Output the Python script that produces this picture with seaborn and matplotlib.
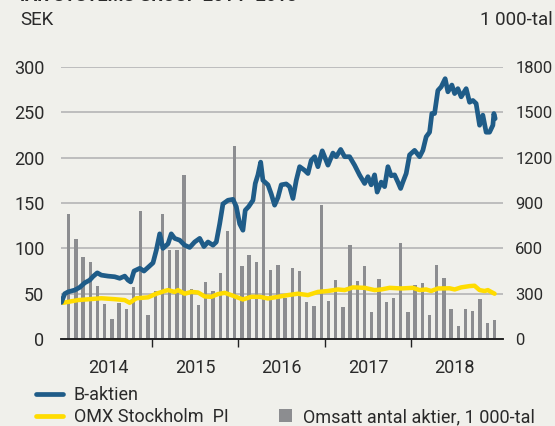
import numpy as np
import pandas as pd
import seaborn as sns
import matplotlib.pyplot as plt
from matplotlib.lines import Line2D
from matplotlib.patches import Patch

# monthly turnover, 1 000-tal, Jan 2014 .. Dec 2018
volume = [826, 661, 540, 511, 352, 229, 130, 236, 196, 346, 844, 161,
          319, 830, 588, 588, 1088, 328, 225, 377, 317, 434, 716, 1278,
          485, 555, 509, 1033, 454, 487, 269, 467, 449, 242, 218, 886,
          251, 392, 211, 621, 383, 482, 176, 397, 242, 275, 637, 178,
          357, 370, 159, 487, 401, 196, 86, 196, 189, 262, 104, 123]
vol_month = [i + 0.5 for i in range(len(volume))]

# B-aktien, SEK (time in months since 1 Jan 2014)
b_month = [-0.51, -0.04, 0.42, 1.34, 2.04, 2.73, 3.42, 3.88, 4.47, 5.03,
           5.96, 6.88, 7.58, 8.27, 8.73, 9.10, 9.56, 10.35, 10.94, 11.50,
           12.19, 12.65, 13.12, 13.57, 14.27, 14.72, 15.19, 15.89, 16.58, 17.27,
           17.96, 18.66, 19.25, 19.81, 20.50, 20.96, 21.43, 21.88, 22.58, 23.27,
           23.73, 24.20, 24.65, 24.97, 25.44, 26.04, 26.36, 26.73, 27.11, 27.42,
           28.12, 28.57, 29.04, 29.50, 29.96, 30.65, 31.12, 31.58, 32.04, 32.51,
           33.20, 33.66, 34.11, 34.58, 35.04, 35.64, 36.43, 37.12, 37.58, 38.19,
           38.74, 39.43, 40.12, 40.82, 41.51, 41.97, 42.42, 42.89, 43.25, 43.81,
           44.28, 44.74, 45.19, 45.66, 46.12, 46.50, 46.81, 47.27, 47.74, 48.43,
           49.13, 49.58, 50.04, 50.51, 50.83, 51.20, 51.66, 52.12, 52.67, 53.05,
           53.60, 53.98, 54.43, 54.89, 55.58, 56.05, 56.51, 56.96, 57.44, 57.89,
           58.35, 58.82, 59.28, 59.42, 59.60]
b_price = [40.4, 50, 52, 54, 57, 62, 65, 69, 73, 70.5,
           69.4, 68.7, 67, 69.4, 65, 63, 75, 78, 75, 79,
           84, 98, 116, 100, 105, 116, 111, 109, 103.5, 101,
           107, 111, 102, 107, 103.5, 107, 127, 149, 153, 154,
           146, 127, 120, 142, 146, 153, 171.5, 181, 195, 175,
           170, 160, 147.6, 156, 170, 171, 168, 155, 175, 190,
           186, 182.5, 197, 201, 190, 207.5, 191.7, 205, 201, 209,
           201, 201, 191.7, 180.7, 171.5, 179, 170, 181, 162, 173,
           168, 190, 180, 181, 173, 166, 173, 182.5, 203, 208,
           201, 208, 223, 228, 248.6, 248.6, 274, 278, 287, 272.5,
           280, 270.6, 276, 267, 276, 261, 263, 259.6, 235.7, 246.8,
           228, 228, 235.7, 248.6, 243]

# OMX Stockholm PI, rescaled
omx_month = [-0.28, 1.80, 5.03, 6.88, 8.27, 8.96, 9.88, 11.50, 12.65, 13.81,
             14.27, 15.19, 15.65, 16.58, 17.49, 18.42, 19.35, 20.26, 21.19, 22.12,
             23.03, 24.65, 25.80, 26.97, 28.12, 29.04, 29.50, 30.89, 32.27, 33.66,
             35.04, 36.43, 37.81, 38.74, 39.89, 41.51, 42.89, 43.81, 44.97, 46.58,
             48.20, 49.13, 50.04, 50.73, 51.66, 53.28, 53.98, 54.89, 56.05, 56.74,
             57.44, 58.13, 58.59, 59.04, 59.52]
omx_value = [40, 43, 45, 44, 43, 40, 45, 46, 50, 53,
             54, 52, 54, 50, 52, 51.4, 47, 46.6, 49.6, 51,
             48.5, 43.7, 46.6, 46.6, 44.8, 46, 46.6, 48.5, 50, 48.5,
             52, 53, 54.7, 54, 57, 56.5, 54, 54.7, 56.5, 55.8,
             56.5, 54, 54.7, 53, 55.8, 56, 54.7, 57, 58.4, 58.8,
             54, 53, 54, 52, 50]

years = ['2014', '2015', '2016', '2017', '2018']

bg = '#f0f0eb'
blue = '#1f5c88'
yellow = '#ffdc00'
grey = '#8c8d90'
txt = '#2a2a2a'

sns.set_style('white')
plt.rcParams['font.family'] = ['Roboto', 'DejaVu Sans']
plt.rcParams['text.color'] = txt

fig = plt.figure(figsize=(5.55, 4.26), dpi=100, facecolor=bg)
ax2 = fig.add_axes([0.11, 0.204, 0.796, 0.639])
ax2.patch.set_facecolor(bg)
ax = ax2.twinx()

vol_df = pd.DataFrame({'month': vol_month, 'volume': volume})
ax2.bar(vol_df['month'], vol_df['volume'], width=0.46, color=grey,
        linewidth=0, zorder=2)
ax2.set_ylim(0, 1800)
ax2.set_yticks(range(0, 1801, 300))
ax2.grid(axis='y', color='#b5b5b5', linewidth=1.2, zorder=0)
ax2.set_axisbelow(True)

ax.set_zorder(ax2.get_zorder() + 1)
ax.patch.set_visible(False)
sns.lineplot(x=omx_month, y=omx_value, ax=ax, color=yellow, linewidth=3.2,
             estimator=None, sort=False)
sns.lineplot(x=b_month, y=b_price, ax=ax, color=blue, linewidth=3.4,
             estimator=None, sort=False)
ax.set_ylim(0, 300)
ax.set_yticks(range(0, 301, 50))

# twinx puts the original axis on the left; swap the sides
ax.yaxis.tick_left()
ax2.yaxis.tick_right()

for a in (ax, ax2):
    a.set_xlim(-0.55, 60.66)
    for s in ['top', 'left', 'right']:
        a.spines[s].set_visible(False)
    a.spines['bottom'].set_color('#222222')
    a.spines['bottom'].set_linewidth(1.2)
    a.set_ylabel('')
    a.set_xlabel('')
ax.tick_params(axis='y', length=0, labelsize=13, colors=txt, pad=12)
ax2.tick_params(axis='y', length=0, labelsize=12, colors=txt, pad=9)

# the visible x axis belongs to ax2 (twinx hides the twin's one)
ax2.set_xticks([12, 24, 36, 48])
ax2.set_xticklabels([])
ax2.set_xticks([6, 18, 30, 42, 54], minor=True)
ax2.set_xticklabels(years, minor=True)
ax2.tick_params(axis='x', which='major', bottom=True, length=6, width=1, color='#222222')
ax2.tick_params(axis='x', which='minor', bottom=True, length=0, labelsize=13,
                colors=txt, pad=14)

fig.text(20 / 555, 1 - 1 / 426, 'IAR SYSTEMS GROUP 2014–2018', fontsize=13,
         fontweight='bold', va='baseline', ha='left', color=txt)
fig.text(20 / 555, 1 - 20 / 426, 'SEK', fontsize=13.5, va='center', ha='left')
fig.text(553 / 555, 1 - 20 / 426, '1 000-tal', fontsize=13.5, va='center', ha='right')

h1 = [Line2D([], [], color=blue, linewidth=3.4), Line2D([], [], color=yellow, linewidth=3.4)]
leg1 = fig.legend(h1, ['B-aktien', 'OMX Stockholm  PI'], loc='lower left',
                  bbox_to_anchor=(0.035, -0.038), frameon=False, fontsize=13,
                  handlelength=1.5, handletextpad=0.6, labelspacing=0.2)
h2 = [Patch(facecolor=grey, edgecolor='none')]
leg2 = fig.legend(h2, ['Omsatt antal aktier, 1 000-tal'], loc='lower left',
                  bbox_to_anchor=(0.474, -0.038), frameon=False, fontsize=13,
                  handlelength=0.7, handleheight=0.7, handletextpad=0.6)

fig.savefig('out.png', dpi=100, facecolor=bg)
